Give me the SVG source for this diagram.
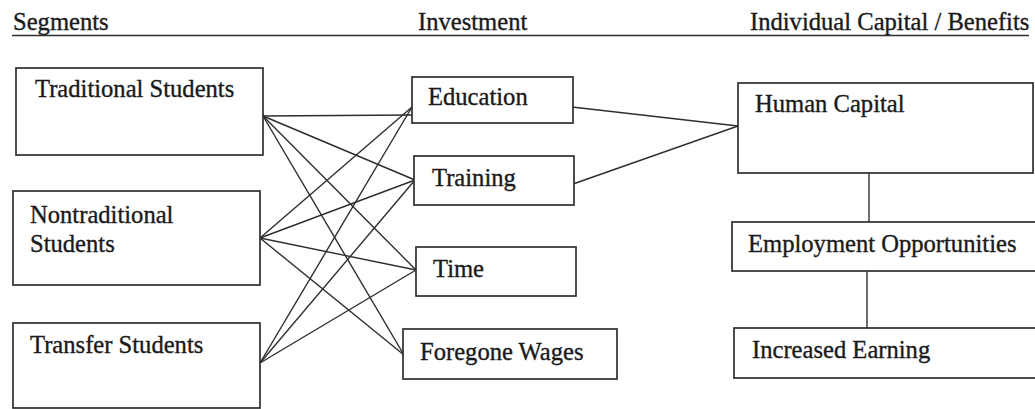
<svg xmlns="http://www.w3.org/2000/svg" width="1035" height="409" viewBox="0 0 1035 409">
  <style>
    .box { fill: #ffffff; stroke: #2e2e2e; stroke-width: 1.7; }
    .lbl { font-family: "Liberation Serif", "Times New Roman", serif; font-size: 24.6px; fill: #1a1a1a; stroke: #1a1a1a; stroke-width: 0.35; }
    .link { stroke: #2e2e2e; stroke-width: 1.4; fill: none; }
    .rule { stroke: #2e2e2e; stroke-width: 1.6; }
  </style>
  <rect width="1035" height="409" fill="#ffffff"/>

  <!-- column headings -->
  <g id="headings">
    <text class="lbl" x="13" y="30">Segments</text>
    <text class="lbl" x="418" y="30">Investment</text>
    <text class="lbl" x="750" y="30">Individual Capital / Benefits</text>
    <line class="rule" x1="12" y1="35.5" x2="1029" y2="35.5"/>
  </g>

  <!-- connectors -->
  <g id="connectors">
    <!-- Traditional Students -->
    <line class="link" x1="263" y1="116" x2="412" y2="115"/>
    <line class="link" x1="263" y1="116" x2="415" y2="180"/>
    <line class="link" x1="263" y1="116" x2="416" y2="270"/>
    <line class="link" x1="263" y1="116" x2="404" y2="355"/>
    <!-- Nontraditional Students -->
    <line class="link" x1="260" y1="238" x2="412" y2="107"/>
    <line class="link" x1="260" y1="238" x2="415" y2="180"/>
    <line class="link" x1="260" y1="238" x2="416" y2="270"/>
    <line class="link" x1="260" y1="238" x2="404" y2="355"/>
    <!-- Transfer Students -->
    <line class="link" x1="260" y1="363" x2="412" y2="107" stroke-width="2.3"/>
    <line class="link" x1="260" y1="363" x2="415" y2="180"/>
    <line class="link" x1="260" y1="363" x2="416" y2="270"/>
    <!-- Investments to Human Capital -->
    <line class="link" x1="572" y1="107" x2="738" y2="126"/>
    <line class="link" x1="573" y1="184" x2="738" y2="126"/>
    <!-- benefit chain -->
    <line class="link" x1="869" y1="173" x2="869" y2="222"/>
    <line class="link" x1="867" y1="271" x2="867" y2="328"/>
  </g>

  <g id="traditional">
    <rect class="box" x="16" y="68" width="247" height="87"/>
    <text class="lbl" x="35" y="97">Traditional Students</text>
  </g>
  <g id="nontraditional">
    <rect class="box" x="13" y="191" width="247" height="94"/>
    <text class="lbl" x="30" y="223">Nontraditional</text>
    <text class="lbl" x="30" y="252">Students</text>
  </g>
  <g id="transfer">
    <rect class="box" x="13" y="323" width="247" height="85"/>
    <text class="lbl" x="30" y="353">Transfer Students</text>
  </g>

  <g id="education">
    <rect class="box" x="412" y="77" width="161" height="46"/>
    <text class="lbl" x="428" y="105">Education</text>
  </g>
  <g id="training">
    <rect class="box" x="414" y="156" width="160" height="49"/>
    <text class="lbl" x="432" y="186">Training</text>
  </g>
  <g id="time">
    <rect class="box" x="416" y="247" width="160" height="49"/>
    <text class="lbl" x="433" y="277">Time</text>
  </g>
  <g id="foregone-wages">
    <rect class="box" x="403" y="329" width="214" height="50"/>
    <text class="lbl" x="420" y="360">Foregone Wages</text>
  </g>

  <g id="human-capital">
    <rect class="box" x="738" y="83" width="295" height="90"/>
    <text class="lbl" x="755" y="112">Human Capital</text>
  </g>
  <g id="employment">
    <rect class="box" x="732" y="222" width="310" height="49"/>
    <text class="lbl" x="748" y="252">Employment Opportunities</text>
  </g>
  <g id="increased-earning">
    <rect class="box" x="734" y="328" width="310" height="50"/>
    <text class="lbl" x="752" y="358">Increased Earning</text>
  </g>
</svg>
